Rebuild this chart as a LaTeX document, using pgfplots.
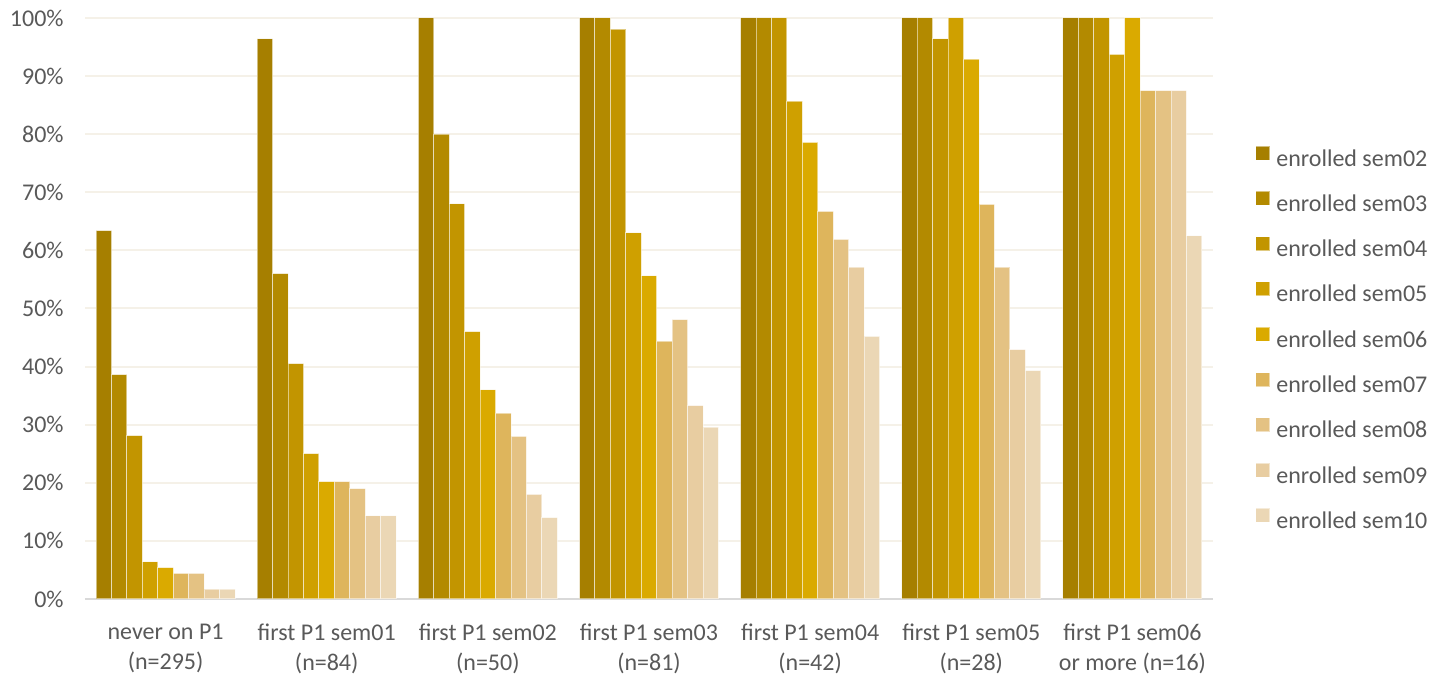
\documentclass[border=0pt]{standalone}
\usepackage{fontspec}
\setmainfont{Carlito}
\usepackage{pgfplots}
\pgfplotsset{compat=1.18}
\definecolor{c02}{HTML}{A67F00}
\definecolor{c03}{HTML}{B38A00}
\definecolor{c04}{HTML}{C29500}
\definecolor{c05}{HTML}{CFA000}
\definecolor{c06}{HTML}{DAAA00}
\definecolor{c07}{HTML}{DEB55C}
\definecolor{c08}{HTML}{E4C283}
\definecolor{c09}{HTML}{E8CDA1}
\definecolor{c10}{HTML}{EBD7B5}
\definecolor{txt}{HTML}{595959}
\definecolor{gridc}{HTML}{F5F1E8}
\definecolor{axisc}{HTML}{D9D9D9}
\begin{document}
\begin{tikzpicture}[x=1pt,y=1pt]
\useasboundingbox (0,0) rectangle (721,337.5);
\begin{axis}[
  at={(42.5pt,38pt)}, anchor=south west,
  width=564pt, height=290.5pt, scale only axis,
  ybar=0pt, bar width=7.72pt,
  xmin=-0.5, xmax=6.5, ymin=0, ymax=100,
  xtick={0,1,2,3,4,5,6},
  xticklabels={{never on P1\\(n=295)},{first P1 sem01\\(n=84)},{first P1 sem02\\(n=50)},{first P1 sem03\\(n=81)},{first P1 sem04\\(n=42)},{first P1 sem05\\(n=28)},{first P1 sem06\\or more (n=16)}},
  ytick={0,10,...,100},
  yticklabels={0\%,10\%,20\%,30\%,40\%,50\%,60\%,70\%,80\%,90\%,100\%},
  axis lines*=left,
  x axis line style={draw=axisc, line width=1pt, -},
  y axis line style={draw=none},
  major tick length=0pt,
  tick style={draw=none},
  ymajorgrids,
  major grid style={draw=gridc, line width=1pt},
  ticklabel style={font=\fontsize{12}{15}\selectfont, text=txt},
  yticklabel style={inner sep=0pt, xshift=-10.5pt},
  xticklabel style={align=center, inner sep=0pt, yshift=-12.3pt},
  legend style={at={(1.0372,0.4458)}, anchor=west, draw=none, fill=none,
    font=\fontsize{12}{15}\selectfont, text=txt, row sep=9.4pt, column sep=3pt,
    inner sep=0pt, nodes={inner sep=0pt, text height=9pt, text depth=3pt}},
  legend cell align=left,
  legend image code/.code={\fill[#1] (0pt,0pt) rectangle (7pt,7pt);},
  every axis plot/.append style={draw=white, draw opacity=0.5, line width=0.5pt},
]
\addplot[fill=c02] coordinates {(0,63.4) (1,96.4) (2,100) (3,100) (4,100) (5,100) (6,100)};
\addplot[fill=c03] coordinates {(0,38.6) (1,56.0) (2,80) (3,100) (4,100) (5,100) (6,100)};
\addplot[fill=c04] coordinates {(0,28.1) (1,40.5) (2,68) (3,98.1) (4,100) (5,96.4) (6,100)};
\addplot[fill=c05] coordinates {(0,6.4) (1,25.0) (2,46) (3,63.0) (4,85.7) (5,100) (6,93.75)};
\addplot[fill=c06] coordinates {(0,5.4) (1,20.2) (2,36) (3,55.6) (4,78.6) (5,92.9) (6,100)};
\addplot[fill=c07] coordinates {(0,4.4) (1,20.2) (2,32) (3,44.4) (4,66.7) (5,67.9) (6,87.5)};
\addplot[fill=c08] coordinates {(0,4.4) (1,19.0) (2,28) (3,48.1) (4,61.9) (5,57.1) (6,87.5)};
\addplot[fill=c09] coordinates {(0,1.7) (1,14.3) (2,18) (3,33.3) (4,57.1) (5,42.9) (6,87.5)};
\addplot[fill=c10] coordinates {(0,1.7) (1,14.3) (2,14) (3,29.6) (4,45.2) (5,39.3) (6,62.5)};
\legend{enrolled sem02,enrolled sem03,enrolled sem04,enrolled sem05,enrolled sem06,enrolled sem07,enrolled sem08,enrolled sem09,enrolled sem10}
\end{axis}
\end{tikzpicture}
\end{document}
